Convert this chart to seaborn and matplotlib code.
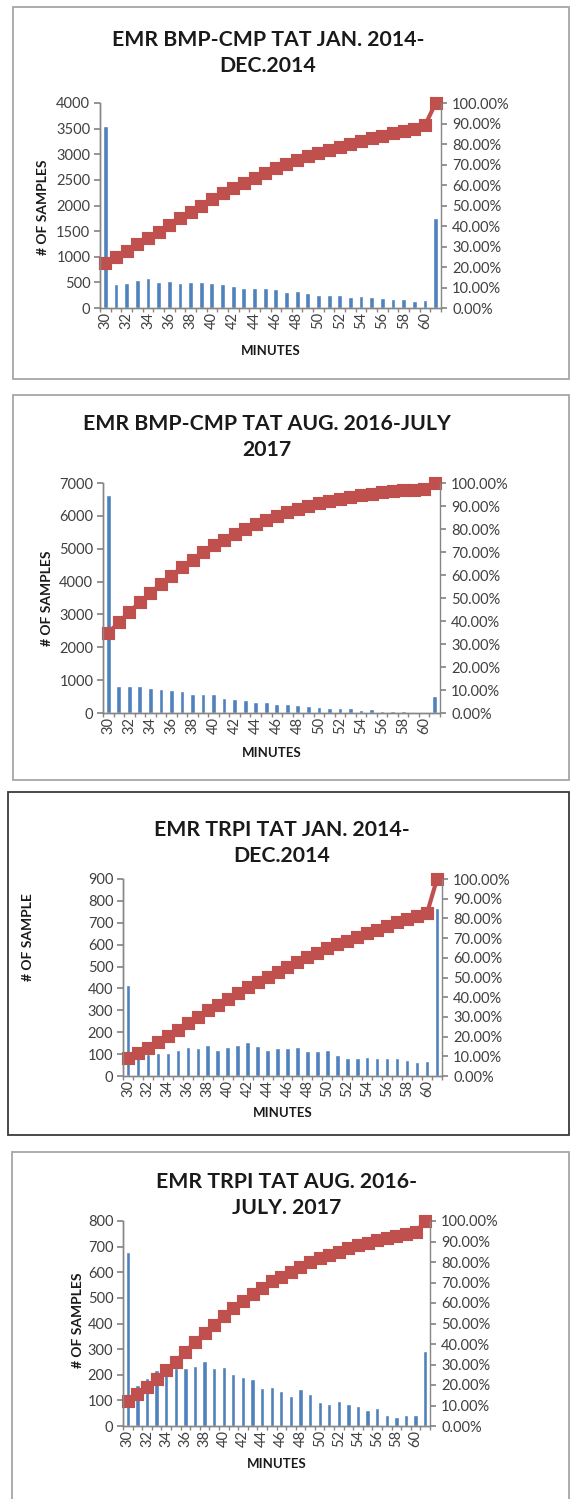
import numpy as np
import seaborn as sns
import matplotlib.pyplot as plt
from matplotlib.patches import Rectangle
from matplotlib.ticker import PercentFormatter, MultipleLocator, FixedLocator

# minutes 30..60 plus the overflow bin
minutes = list(range(30, 62))

# EMR BMP-CMP TAT JAN. 2014-DEC.2014
bmp14_counts = [3560, 465, 485, 543, 581, 517, 530, 485, 504, 510, 485, 465, 433, 394, 394, 400,
                362, 317, 336, 291, 245, 245, 258, 213, 226, 213, 200, 174, 174, 142, 155, 1750]
bmp14_cum = [21.9, 25.1, 28.0, 31.1, 34.0, 37.3, 40.6, 43.7, 46.8, 50.0, 53.0, 55.9, 58.6, 61.1, 63.5, 66.0,
             68.3, 70.2, 72.3, 74.1, 75.6, 77.1, 78.7, 80.1, 81.5, 82.8, 84.1, 85.2, 86.3, 87.1, 89.1, 100.0]

# EMR BMP-CMP TAT AUG. 2016-JULY 2017
bmp17_counts = [6650, 836, 836, 815, 754, 734, 714, 663, 591, 591, 571, 459, 438, 408, 326, 326,
                275, 275, 255, 214, 173, 163, 143, 143, 102, 112, 71, 71, 51, 31, 31, 527]
bmp17_cum = [34.8, 39.4, 43.9, 48.1, 52.2, 56.1, 59.7, 63.3, 66.7, 69.9, 72.9, 75.4, 78.0, 80.1, 82.2, 84.1,
             85.8, 87.2, 88.7, 90.1, 91.3, 92.3, 93.2, 94.1, 94.8, 95.4, 95.9, 96.5, 96.8, 97.1, 97.4, 100.0]

# EMR TRPI TAT JAN. 2014-DEC.2014
trpi14_counts = [416, 80, 100, 106, 106, 121, 132, 126, 141, 121, 132, 141, 154, 135, 121, 127,
                 127, 132, 116, 116, 119, 97, 80, 83, 86, 80, 80, 83, 74, 64, 70, 768]
trpi14_cum = [9.2, 11.6, 14.1, 17.1, 20.2, 23.4, 26.7, 30.1, 33.4, 36.1, 39.0, 42.0, 45.2, 47.7, 50.3, 52.9,
              55.3, 57.8, 60.3, 62.5, 64.8, 66.9, 68.7, 70.6, 72.5, 74.3, 76.1, 78.0, 79.7, 81.1, 82.7, 100.0]

# EMR TRPI TAT AUG. 2016-JULY. 2017
trpi17_counts = [679, 161, 189, 218, 205, 228, 228, 235, 255, 226, 232, 201, 193, 185, 150, 151,
                 138, 119, 144, 125, 94, 86, 99, 86, 77, 64, 69, 43, 37, 42, 42, 294]
trpi17_cum = [12.4, 15.6, 19.2, 23.1, 27.3, 31.4, 36.3, 40.8, 45.5, 49.3, 53.7, 57.7, 61.0, 64.4, 67.5, 70.6,
              72.8, 75.3, 77.7, 80.0, 81.8, 83.4, 85.0, 86.7, 88.1, 89.4, 90.7, 91.7, 92.7, 93.5, 94.5, 100.0]

W, H = 572, 1499
BLUE = '#4F81BD'
RED = '#C0504D'
AXC = '#868686'
TXT = '#404040'

sns.set_theme(style="white")
plt.rcParams['font.family'] = ['Lato', 'DejaVu Sans']

fig = plt.figure(figsize=(W / 100, H / 100), dpi=100)


def fx(x):
    return x / W


def fy(y):
    return 1 - y / H


def panel(counts, cum, title, ylabel, ymax, ystep, box, plot, title_xy, ylab_xy, xlab_y, box_color):
    bx0, by0, bx1, by1 = box
    fig.patches.append(Rectangle((fx(bx0), fy(by1)), fx(bx1 - bx0), (by1 - by0) / H,
                                 transform=fig.transFigure, fill=False,
                                 edgecolor=box_color, linewidth=1.3))
    x0, y0, x1, y1 = plot
    ax = fig.add_axes([fx(x0), fy(y1), fx(x1 - x0), (y1 - y0) / H])
    sns.barplot(x=minutes, y=counts, ax=ax, color=BLUE, saturation=1, width=0.45)
    ax2 = ax.twinx()
    sns.pointplot(x=minutes, y=[c / 100 for c in cum], ax=ax2, color=RED, markers='s',
                  errorbar=None, markersize=7.5, linewidth=3)
    for ln in ax2.lines:
        ln.set_clip_on(False)

    ax.set_xlim(-0.5, len(minutes) - 0.5)
    ax.set_ylim(0, ymax)
    ax.yaxis.set_major_locator(MultipleLocator(ystep))
    ax2.set_ylim(0, 1)
    ax2.yaxis.set_major_locator(MultipleLocator(0.1))
    ax2.yaxis.set_major_formatter(PercentFormatter(1, decimals=2))

    ticks = list(range(0, len(minutes), 2))
    ax.xaxis.set_major_locator(FixedLocator(ticks))
    ax.set_xticklabels([str(minutes[i]) for i in ticks], rotation=90)
    ax.xaxis.set_minor_locator(FixedLocator(np.arange(-0.5, len(minutes), 1)))
    ax.set_xlabel('')
    ax.set_ylabel('')
    ax2.set_ylabel('')

    for a in (ax, ax2):
        for s in a.spines.values():
            s.set_color(AXC)
            s.set_linewidth(1)
        a.spines['top'].set_visible(False)
    ax.spines['right'].set_visible(False)
    ax.tick_params(axis='x', which='major', length=0, labelsize=10.5, labelcolor=TXT, pad=3)
    ax.tick_params(axis='x', which='minor', length=3, color=AXC, bottom=True)
    ax.tick_params(axis='y', length=4, color=AXC, left=True, labelsize=10.5, labelcolor=TXT, pad=3)
    ax2.tick_params(axis='y', length=4, color=AXC, right=True, labelsize=10.5, labelcolor=TXT, pad=4)

    fig.text(fx(title_xy[0]), fy(title_xy[1]), title, ha='center', va='center',
             fontsize=15.3, fontweight='bold', color='#1a1a1a', linespacing=1.4)
    fig.text(fx(ylab_xy[0]), fy(ylab_xy[1]), ylabel, ha='center', va='center', rotation=90,
             fontsize=10, fontweight='bold', color='#1a1a1a')
    fig.text(fx((x0 + x1) / 2), fy(xlab_y), 'MINUTES', ha='center', va='center',
             fontsize=9.5, fontweight='bold', color='#1a1a1a')


panel(bmp14_counts, bmp14_cum, 'EMR BMP-CMP TAT JAN. 2014-\nDEC.2014', '# OF SAMPLES', 4000, 500,
      (13, 7, 569, 379), (100, 103, 441, 308), (268, 53), (43, 207), 351, '#a6a6a6')
panel(bmp17_counts, bmp17_cum, 'EMR BMP-CMP TAT AUG. 2016-JULY\n2017', '# OF SAMPLES', 7000, 1000,
      (13, 395, 569, 780), (103, 483, 440, 713), (267, 437), (47, 598), 753, '#a6a6a6')
panel(trpi14_counts, trpi14_cum, 'EMR TRPI TAT JAN. 2014-\nDEC.2014', '# OF SAMPLE', 900, 100,
      (8, 792, 569, 1135), (123, 879, 442, 1076), (282, 843), (28, 937), 1113, '#3a3a3a')
panel(trpi17_counts, trpi17_cum, 'EMR TRPI TAT AUG. 2016-\nJULY. 2017', '# OF SAMPLES', 800, 100,
      (12, 1152, 569, 1510), (123, 1221, 430, 1426), (287, 1195), (78, 1320), 1464, '#a6a6a6')

fig.savefig('out.png', dpi=100)
